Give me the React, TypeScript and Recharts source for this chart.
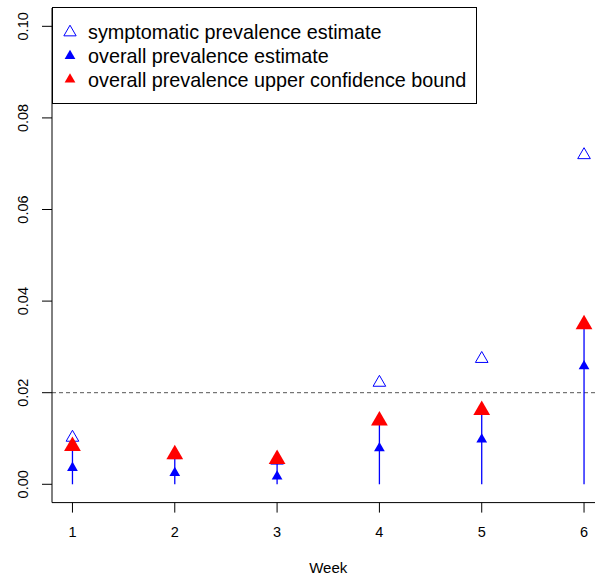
import React from 'react';
import {
  ScatterChart,
  Scatter,
  XAxis,
  YAxis,
  ReferenceLine,
  ErrorBar,
} from 'recharts';

const weeks = [1, 2, 3, 4, 5, 6];
const symptomatic = [0.0102, 0.0064, 0.0052, 0.0222, 0.0274, 0.0719];
const overall = [0.0036, 0.0025, 0.0017, 0.0079, 0.0098, 0.0258];
const upperBound = [0.0083, 0.0065, 0.0055, 0.0139, 0.0162, 0.0349];
const yTicks = [0, 0.02, 0.04, 0.06, 0.08, 0.1];
const threshold = 0.02;

const legendItems = [
  { label: 'symptomatic prevalence estimate', kind: 'open' },
  { label: 'overall prevalence estimate', kind: 'blue' },
  { label: 'overall prevalence upper confidence bound', kind: 'red' },
];

const BLUE = '#0000ff';
const RED = '#ff0000';
const FONT = '"Liberation Sans", Arial, Helvetica, sans-serif';

const symptomaticData = weeks.map((w, i) => ({ week: w, value: symptomatic[i] }));
const overallData = weeks.map((w, i) => ({ week: w, value: overall[i] }));
const upperData = weeks.map((w, i) => ({ week: w, value: upperBound[i] }));
// stem from 0 up to the upper bound
const stemData = weeks.map((w, i) => ({ week: w, value: upperBound[i], err: [upperBound[i], 0] }));

function triPoints(cx: number, cy: number, r: number) {
  const h = (r * Math.sqrt(3)) / 2;
  return `${cx},${cy - r} ${cx + h},${cy + r / 2} ${cx - h},${cy + r / 2}`;
}

function triangle(r: number, fill: string, stroke: string, strokeWidth = 0) {
  return (props: any) => {
    const { cx, cy } = props;
    if (cx == null || cy == null) return <g />;
    return (
      <polygon
        points={triPoints(cx, cy, r)}
        fill={fill}
        stroke={stroke}
        strokeWidth={strokeWidth}
      />
    );
  };
}

function YTick(props: any) {
  const { x, y, payload } = props;
  const bx = x - 12;
  return (
    <text
      x={bx}
      y={y}
      transform={`rotate(-90, ${bx}, ${y})`}
      textAnchor="middle"
      fontSize={14.5}
      fontFamily={FONT}
      fill="#000"
    >
      {Number(payload.value).toFixed(2)}
    </text>
  );
}

function LegendBox() {
  const rowY = [32.3, 56, 79.5];
  return (
    <svg
      width={595}
      height={110}
      style={{ position: 'absolute', left: 0, top: 0, pointerEvents: 'none' }}
    >
      <rect x={52.5} y={7.5} width={424} height={96} fill="#fff" stroke="#000" strokeWidth={1} />
      {legendItems.map((item, i) => {
        const cy = rowY[i];
        let mark;
        if (item.kind === 'open') {
          mark = <polygon points={triPoints(70, cy, 7.1)} fill="none" stroke={BLUE} strokeWidth={1} />;
        } else {
          mark = <polygon points={triPoints(70, cy, 6.2)} fill={item.kind === 'blue' ? BLUE : RED} />;
        }
        return (
          <g key={item.label}>
            {mark}
            <text x={88} y={cy + 7} fontSize={19.8} fontFamily={FONT} fill="#000">
              {item.label}
            </text>
          </g>
        );
      })}
    </svg>
  );
}

export default function App() {
  return (
    <div
      style={{
        position: 'fixed',
        left: 0,
        top: 0,
        width: 595,
        height: 575,
        overflow: 'hidden',
        background: '#fff',
      }}
    >
      <ScatterChart
        width={620}
        height={580}
        margin={{ top: 8, right: 15.5, bottom: 0, left: 0 }}
      >
        <XAxis
          type="number"
          dataKey="week"
          domain={[0.8, 6.2]}
          ticks={weeks}
          allowDataOverflow
          height={77.4}
          tickSize={10}
          tickMargin={14}
          axisLine={{ stroke: '#000' }}
          tickLine={{ stroke: '#000' }}
          tick={{ fontSize: 14.5, fontFamily: FONT, fill: '#000' }}
          label={{
            value: 'Week',
            position: 'insideBottom',
            offset: 7,
            fontSize: 15,
            fontFamily: FONT,
            fill: '#000',
          }}
        />
        <YAxis
          type="number"
          dataKey="value"
          domain={[-0.004, 0.104]}
          ticks={yTicks}
          allowDataOverflow
          width={52}
          tickSize={10}
          axisLine={{ stroke: '#000' }}
          tickLine={{ stroke: '#000' }}
          tick={<YTick />}
        />
        <ReferenceLine
          y={threshold}
          stroke="#555"
          strokeDasharray="4 3"
          strokeWidth={1}
        />
        <Scatter data={stemData} shape={() => <g />} isAnimationActive={false}>
          <ErrorBar dataKey="err" direction="y" width={0} stroke={BLUE} strokeWidth={1.3} />
        </Scatter>
        <Scatter
          data={symptomaticData}
          shape={triangle(7.3, '#fff', BLUE, 1)}
          isAnimationActive={false}
        />
        <Scatter data={upperData} shape={triangle(9.7, RED, 'none')} isAnimationActive={false} />
        <Scatter data={overallData} shape={triangle(6.2, BLUE, 'none')} isAnimationActive={false} />
      </ScatterChart>
      <LegendBox />
    </div>
  );
}
